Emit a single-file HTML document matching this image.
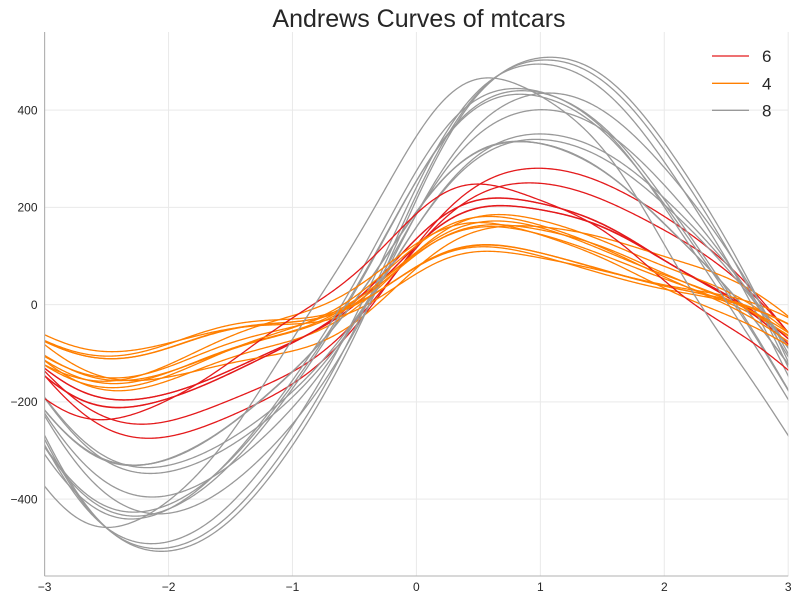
<!DOCTYPE html>
<html>
<head>
<meta charset="utf-8">
<style>
  html, body { margin:0; padding:0; background:#ffffff; }
  svg { display:block; }
  text { font-family: "Liberation Sans", Arial, sans-serif; fill:#262626; }
</style>
</head>
<body>
<svg id="chart" width="799" height="602" viewBox="0 0 799 602" xmlns="http://www.w3.org/2000/svg">
  <defs>
    <clipPath id="ax">
      <rect x="44.6" y="32" width="743.6" height="544"/>
    </clipPath>
  </defs>
  <rect x="0" y="0" width="799" height="602" fill="#ffffff"/>
  <g id="grid" stroke="#e9e9e9" stroke-width="1" fill="none"></g>
  <g id="curves" clip-path="url(#ax)" fill="none" stroke-width="1.3" stroke-linejoin="round" stroke-linecap="round"></g>
  <!-- spines -->
  <line x1="44.6" y1="32" x2="44.6" y2="576" stroke="#b0b0b0" stroke-width="1.1"/>
  <line x1="44.6" y1="576" x2="788.2" y2="576" stroke="#b0b0b0" stroke-width="1.1"/>
  <!-- title -->
  <text x="419" y="27" font-size="25" text-anchor="middle">Andrews Curves of mtcars</text>
  <!-- y tick labels -->
  <g font-size="12" text-anchor="end">
    <text x="37.5" y="114.3">400</text>
    <text x="37.5" y="211.5">200</text>
    <text x="37.5" y="308.8">0</text>
    <text x="37.5" y="406.1">−200</text>
    <text x="37.5" y="503.4">−400</text>
  </g>
  <!-- x tick labels -->
  <g font-size="12" text-anchor="middle">
    <text x="44.6" y="591">−3</text>
    <text x="168.6" y="591">−2</text>
    <text x="292.5" y="591">−1</text>
    <text x="416.4" y="591">0</text>
    <text x="540.3" y="591">1</text>
    <text x="664.3" y="591">2</text>
    <text x="788.2" y="591">3</text>
  </g>
  <!-- legend -->
  <g stroke-width="1.3">
    <line x1="712" y1="56" x2="749" y2="56" stroke="#e41a1c"/>
    <line x1="712" y1="83.3" x2="749" y2="83.3" stroke="#ff7f00"/>
    <line x1="712" y1="110.3" x2="749" y2="110.3" stroke="#999999"/>
  </g>
  <g font-size="17">
    <text x="762" y="62">6</text>
    <text x="762" y="89.3">4</text>
    <text x="762" y="116.3">8</text>
  </g>
</svg>
<script>
(function(){
  var NS = "http://www.w3.org/2000/svg";
  var X0 = 416.4, SX = 123.93;
  var Y0 = 304.6, SY = 0.48625;
  function px(t){ return X0 + t*SX; }
  function py(v){ return Y0 - v*SY; }

  var g = document.getElementById("grid");
  for (var t=-3; t<=3; t++){
    var l = document.createElementNS(NS,"line");
    l.setAttribute("x1", px(t)); l.setAttribute("x2", px(t));
    l.setAttribute("y1", 32); l.setAttribute("y2", 576);
    g.appendChild(l);
  }
  for (var v=-400; v<=400; v+=200){
    var l2 = document.createElementNS(NS,"line");
    l2.setAttribute("x1", 44.6); l2.setAttribute("x2", 788.2);
    l2.setAttribute("y1", py(v)); l2.setAttribute("y2", py(v));
    g.appendChild(l2);
  }

  var D = [
    [21.0,6,160,110,3.90,2.620,16.46,0,1,4,4],
    [21.0,6,160,110,3.90,2.875,17.02,0,1,4,4],
    [22.8,4,108,93,3.85,2.320,18.61,1,1,4,1],
    [21.4,6,258,110,3.08,3.215,19.44,1,0,3,1],
    [18.7,8,360,175,3.15,3.440,17.02,0,0,3,2],
    [18.1,6,225,105,2.76,3.460,20.22,1,0,3,1],
    [14.3,8,360,245,3.21,3.570,15.84,0,0,3,4],
    [24.4,4,146.7,62,3.69,3.190,20.00,1,0,4,2],
    [22.8,4,140.8,95,3.92,3.150,22.90,1,0,4,2],
    [19.2,6,167.6,123,3.92,3.440,18.30,1,0,4,4],
    [17.8,6,167.6,123,3.92,3.440,18.90,1,0,4,4],
    [16.4,8,275.8,180,3.07,4.070,17.40,0,0,3,3],
    [17.3,8,275.8,180,3.07,3.730,17.60,0,0,3,3],
    [15.2,8,275.8,180,3.07,3.780,18.00,0,0,3,3],
    [10.4,8,472,205,2.93,5.250,17.98,0,0,3,4],
    [10.4,8,460,215,3.00,5.424,17.82,0,0,3,4],
    [14.7,8,440,230,3.23,5.345,17.42,0,0,3,4],
    [32.4,4,78.7,66,4.08,2.200,19.47,1,1,4,1],
    [30.4,4,75.7,52,4.93,1.615,18.52,1,1,4,2],
    [33.9,4,71.1,65,4.22,1.835,19.90,1,1,4,1],
    [21.5,4,120.1,97,3.70,2.465,20.01,1,0,3,1],
    [15.5,8,318,150,2.76,3.520,16.87,0,0,3,2],
    [15.2,8,304,150,3.15,3.435,17.30,0,0,3,2],
    [13.3,8,350,245,3.73,3.840,15.41,0,0,3,4],
    [19.2,8,400,175,3.08,3.845,17.05,0,0,3,2],
    [27.3,4,79,66,4.08,1.935,18.90,1,1,4,1],
    [26.0,4,120.3,91,4.43,2.140,16.70,0,1,5,2],
    [30.4,4,95.1,113,3.77,1.513,16.90,1,1,5,2],
    [15.8,8,351,264,4.22,3.170,14.50,0,1,5,4],
    [19.7,6,145,175,3.62,2.770,15.50,0,1,5,6],
    [15.0,8,301,335,3.54,3.570,14.60,0,1,5,8],
    [21.4,4,121,109,4.11,2.780,18.60,1,1,4,2]
  ];
  var COL = {6:"#e41a1c", 4:"#ff7f00", 8:"#999999"};
  var cg = document.getElementById("curves");
  var N = 600;
  for (var i=0;i<D.length;i++){
    var r = D[i];
    var fast = r[0] > 16 ? 1 : 0;
    var a = [Math.sqrt(r[0]), r[2], r[3], r[4], r[5], r[6], r[7], r[8], r[9], r[10], fast];
    var d = "";
    for (var k=0;k<=N;k++){
      var t = -Math.PI + 2*Math.PI*k/N;
      var y = a[0]/Math.SQRT2;
      for (var h=1; h<=5; h++){
        y += a[2*h-1]*Math.sin(h*t) + a[2*h]*Math.cos(h*t);
      }
      d += (k===0?"M":"L") + px(t).toFixed(2) + "," + py(y).toFixed(2);
    }
    var p = document.createElementNS(NS,"path");
    p.setAttribute("d", d);
    p.setAttribute("stroke", COL[r[1]]);
    cg.appendChild(p);
  }
})();
</script>
</body>
</html>
